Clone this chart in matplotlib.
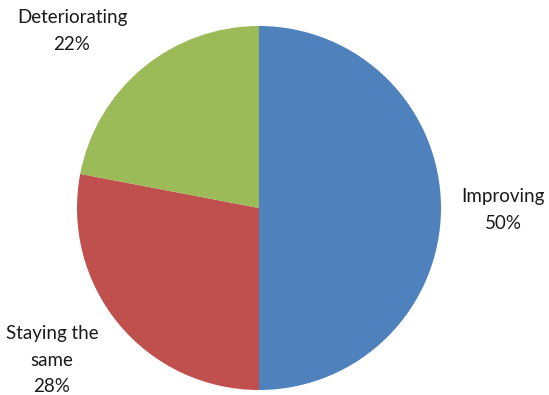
import matplotlib
matplotlib.use('Agg')
import matplotlib.pyplot as plt

# outlook shares
labels = ['Improving', 'Staying the\nsame', 'Deteriorating']
shares = [50, 28, 22]
colors = ['#4F81BD', '#C0504D', '#9BBB59']

W, H = 549, 395
fig = plt.figure(figsize=(W / 100, H / 100), dpi=100)
ax = fig.add_axes([0, 0, 1, 1])

# pie centred at (259, 208) from the top, radius 182 px
cx, cy, r = 259, H - 208, 182
ax.pie(shares, colors=colors, startangle=90, counterclock=False,
       center=(cx, cy), radius=r, frame=True,
       wedgeprops=dict(linewidth=0))
ax.set_xlim(0, W)
ax.set_ylim(0, H)
ax.set_aspect('equal')
ax.axis('off')

# data labels placed outside the slices
label_pos = [(503, H - 210), (52, H - 360), (72, H - 31)]
for lab, val, (x, y) in zip(labels, shares, label_pos):
    ax.text(x, y, f'{lab}\n{val}%', ha='center', va='center',
            fontsize=13.5, family='Lato', color='#1a1a1a', linespacing=1.7)

fig.savefig('out.png', dpi=100)
